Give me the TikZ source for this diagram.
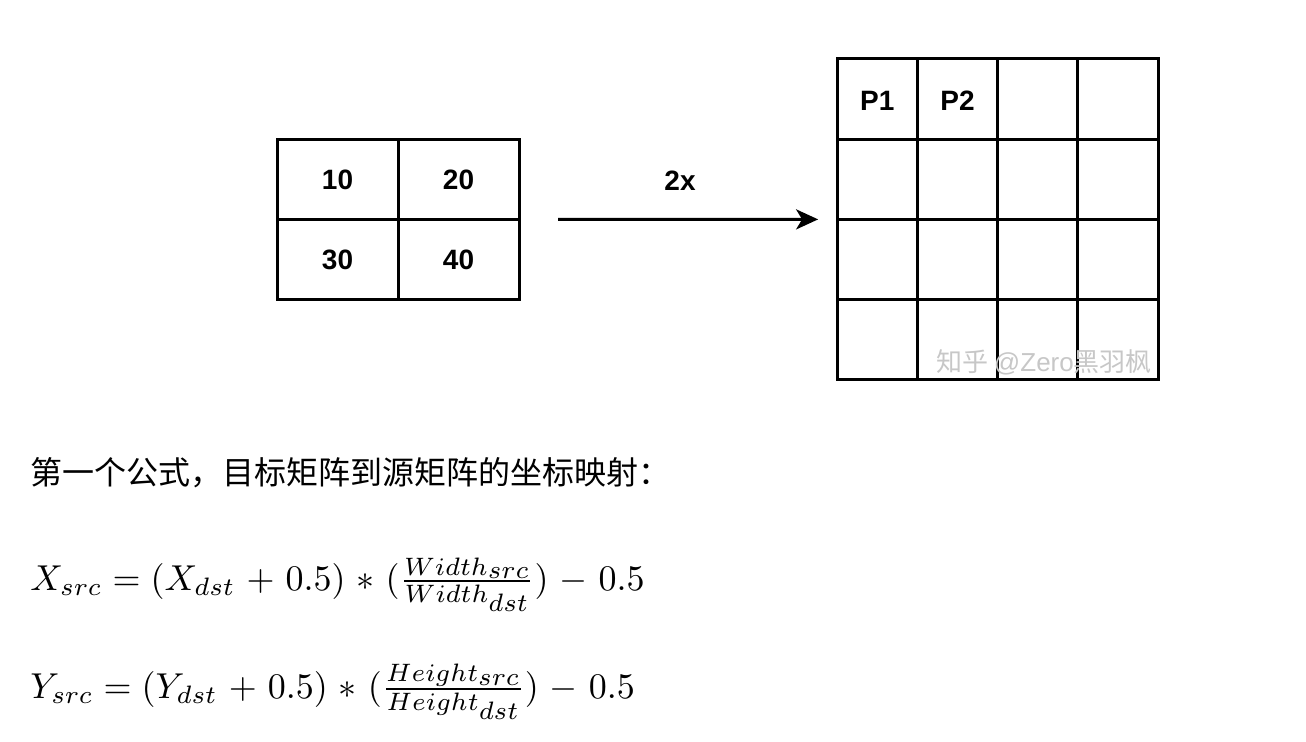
\documentclass[tikz,border=0pt]{standalone}
\usepackage{graphicx}
\usepackage{fontspec}
\newfontfamily\cjk{Noto Sans CJK SC}
\newfontfamily\cellfont{Liberation Sans}
\usetikzlibrary{arrows.meta,positioning}
\tikzset{cell/.style={draw, line width=1.5pt, inner sep=0pt, outer sep=0pt, minimum width=40.125pt, minimum height=40.125pt, font=\cellfont\bfseries\fontsize{14}{16}\selectfont}}
\tikzset{wide/.style={cell, minimum width=60.5pt, minimum height=40pt}}
\tikzset{arr/.style={draw, -{Stealth[length=11pt,width=10pt,inset=3pt]}, line width=1.5pt}}
\tikzset{formula/.style={anchor=base west, inner sep=0pt}}
\newcommand{\bigmath}[1]{\scalebox{1.8}{$\medmuskip=5.5mu #1$}}

\begin{document}
\begin{tikzpicture}[x=0.5pt, y=-0.5pt]
			\useasboundingbox (0,0) rectangle (1306,742);
			% source matrix
			\node[wide] (L11) at (337.5,179.5) {10};
			\node[wide] (L12) at (458.5,179.5) {20};
			\node[wide] (L21) at (337.5,260) {30};
			\node[wide] (L22) at (458.5,260) {40};
			
			% target matrix
			\foreach \i in {1,...,4}
				\foreach \j in {1,...,4}
					\node[cell] (R\i\j) at ({797+80.25*\j},{18.75+80.25*\i}) {};
			\node[font=\cellfont\bfseries\fontsize{14}{16}\selectfont] (P1) at ([yshift=-1pt]R11) {P1};
			\node[font=\cellfont\bfseries\fontsize{14}{16}\selectfont] (P2) at ([yshift=-1pt]R12) {P2};
			\node[text=black!22, font=\cjk\fontsize{13}{15}\selectfont] (mark) at (1044,362) {知乎 {\cellfont @Zero}黑羽枫};
			
			\draw[arr, shorten <=19.5pt, shorten >=9.5pt] (L12.south east) -- (R21.south west);
			\node[font=\cellfont\bfseries\fontsize{14}{16}\selectfont] (scale) at (680,181) {2x};
			
			% formulas
			\node[anchor=base west, inner sep=0pt, font=\cjk\fontsize{16}{18}\selectfont] (title) at (30,485) {第一个公式，目标矩阵到源矩阵的坐标映射：};
			\node[formula] (fx) at (30,590) {\bigmath{X_{src} = (X_{dst} + 0.5) * (\frac{Width_{\scriptstyle src}}{Width_{\scriptstyle dst}}) - 0.5}};
			\node[formula] (fy) at (30,698) {\bigmath{Y_{src} = (Y_{dst} + 0.5) * (\frac{Height_{\scriptstyle src}}{Height_{\scriptstyle dst}}) - 0.5}};
		\end{tikzpicture}
\end{document}
